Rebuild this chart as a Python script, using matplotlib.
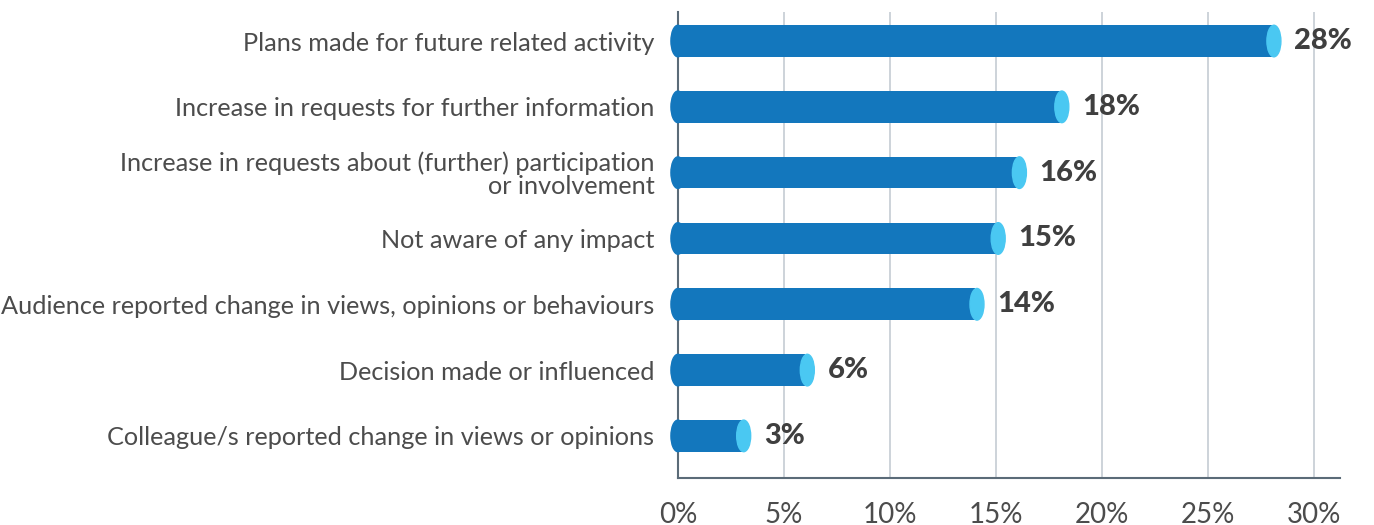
import numpy as np
import matplotlib

matplotlib.use("Agg")
import matplotlib.pyplot as plt
from matplotlib.patches import Ellipse

# data
categories = [
    "Plans made for future related activity",
    "Increase in requests for further information",
    "Increase in requests about (further) participation\nor involvement",
    "Not aware of any impact",
    "Audience reported change in views, opinions or behaviours",
    "Decision made or influenced",
    "Colleague/s reported change in views or opinions",
]
values = [28, 18, 16, 15, 14, 6, 3]
value_labels = ["28%", "18%", "16%", "15%", "14%", "6%", "3%"]
x_ticks = [0, 5, 10, 15, 20, 25, 30]
x_tick_labels = ["0%", "5%", "10%", "15%", "20%", "25%", "30%"]

dark_blue = "#1377BD"
light_blue = "#4AC8F2"
grid_col = "#C5CCD3"
axis_col = "#5B6B78"
text_col = "#4C4C4C"

plt.rcParams["font.family"] = ["Lato", "DejaVu Sans"]

fig = plt.figure(figsize=(13.74, 5.25), dpi=100)
ax = fig.add_axes([0.4934, 0.0895, 0.4816, 0.8875])

y = np.arange(len(categories))
bar_h = 0.48
cap_w = 0.66  # width of the end caps in data units

ax.barh(y, values, height=bar_h, color=dark_blue, zorder=3)
for yi, v in zip(y, values):
    ax.add_patch(Ellipse((0, yi), cap_w, bar_h, color=dark_blue, zorder=3,
                         clip_on=False))
    ax.add_patch(Ellipse((v + 0.1, yi), cap_w, bar_h, color=light_blue, zorder=4,
                         clip_on=False))

for yi, v, lab in zip(y, values, value_labels):
    ax.annotate(lab, (v, yi), xytext=(16, 0), textcoords="offset points",
                ha="left", va="center", fontsize=21, fontweight="black",
                color="#3F3F3F", zorder=5)

ax.set_xlim(0, 31.2)
ax.set_ylim(len(categories) - 1 + 0.64, -0.44)

ax.set_yticks(y)
ax.set_yticklabels(categories, fontsize=18.2, fontweight="normal", color=text_col,
                   linespacing=1.0)
ax.set_xticks(x_ticks)
ax.set_xticklabels(x_tick_labels, fontsize=20, fontweight="normal", color=text_col)
ax.tick_params(axis="y", length=0, pad=17)
ax.tick_params(axis="x", length=0, pad=17)

for xt in x_ticks[1:]:
    ax.axvline(xt, color=grid_col, lw=1.2, zorder=1)

for s in ["top", "right"]:
    ax.spines[s].set_visible(False)
ax.spines["left"].set_color(axis_col)
ax.spines["bottom"].set_color(axis_col)
ax.spines["left"].set_linewidth(1.5)
ax.spines["bottom"].set_linewidth(1.5)

fig.savefig("out.png", dpi=100)
